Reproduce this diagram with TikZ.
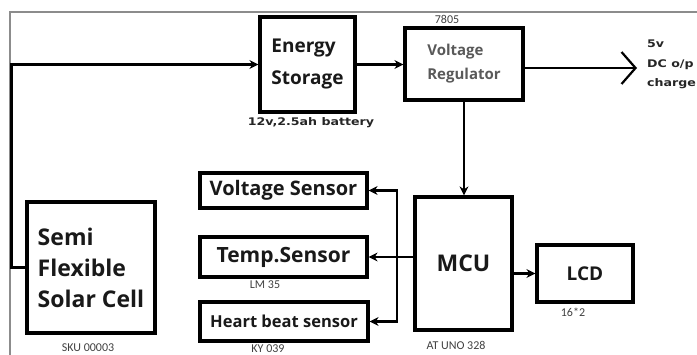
\documentclass[tikz,border=0pt]{standalone}
\usepackage{fontspec}
\setmainfont{Open Sans}
\newfontfamily\tagfont{DejaVu Sans}[FakeStretch=1.2]
\newfontfamily\notefont{Carlito}
\usetikzlibrary{arrows.meta, positioning}

\tikzset{
  blk/.style={draw, rectangle, line width=3.2pt, align=left, text=black!90, inner sep=0pt},
  conn/.style={line width=2.2pt, -{Stealth[length=9pt,width=9pt]}},
  note/.style={font=\notefont\fontsize{12}{12}\selectfont, text=black!75, inner sep=1pt},
  tag/.style={font=\tagfont\bfseries\fontsize{10.5}{19.5}\selectfont, align=left, text=black!85, inner sep=0pt},
}

\begin{document}
\begin{tikzpicture}[x=1pt, y=-1pt]
\useasboundingbox (0,0) rectangle (697,355);
\draw[black!45, line width=1.2pt] (697,12) -- (10,12) -- (10,355);

\node[blk, minimum width=95, minimum height=95, font=\bfseries\fontsize{19}{32}\selectfont] (es) at (307.5,64.5) {Energy\\Storage};
\node[blk, minimum width=118, minimum height=72, text=black!65, font=\bfseries\fontsize{15}{24}\selectfont] (vr) at (464,64) {Voltage\\Regulator};
\node[blk, minimum width=128, minimum height=131, font=\bfseries\fontsize{23}{31}\selectfont] (sc) at (91,267.5) {Semi\\Flexible\\Solar Cell};
\node[blk, minimum width=167, minimum height=35, font=\bfseries\fontsize{20}{24}\selectfont] (vs) at (283.5,190.5) {Voltage Sensor};
\node[blk, minimum width=167, minimum height=40, font=\bfseries\fontsize{21}{24}\selectfont] (ts) at (283.5,257) {Temp.Sensor};
\node[blk, minimum width=168, minimum height=39, font=\bfseries\fontsize{16.5}{20}\selectfont] (hb) at (284,321.5) {Heart beat sensor};
\node[blk, minimum width=97, minimum height=133, font=\bfseries\fontsize{23}{26}\selectfont] (mcu) at (463.5,263.5) {MCU};
\node[blk, minimum width=96, minimum height=57, font=\bfseries\fontsize{19}{22}\selectfont] (lcd) at (585,273.5) {LCD};

\node[note] (n7805) at (447,19) {7805};
\node[tag] (bat) at (311,123) {12v,2.5ah battery};
\node[note] (sku) at (88,348) {SKU 00003};
\node[note] (lm) at (265,285) {LM 35};
\node[note] (ky) at (268,349) {KY 039};
\node[note] (uno) at (456,345) {AT UNO 328};
\node[note] (disp) at (573,312) {16*2};
\node[tag, anchor=north west] (dc) at (647,40) {5v\\DC o/p\\charge};

\coordinate (out) at (637,68);
\coordinate (bus) at (397,257);

\draw[conn] (sc.west) -- ++(-14,0) |- (es.west);
\draw[conn] (es.east) -- (es.east -| vr.west);
\draw[line width=2.2pt, -{Straight Barb[length=14pt,width=32pt,line width=2.2pt]}] (vr.east |- out) -- (out);
\draw[conn] (vr.south) -- (vr.south |- mcu.north);
\draw[conn] (mcu.east |- lcd) -- (lcd.west);
\draw[conn] (mcu.west |- ts) -- (ts.east);
\draw[conn] (bus) |- (vs.east);
\draw[conn] (bus) |- (hb.east);
\end{tikzpicture}
\end{document}
